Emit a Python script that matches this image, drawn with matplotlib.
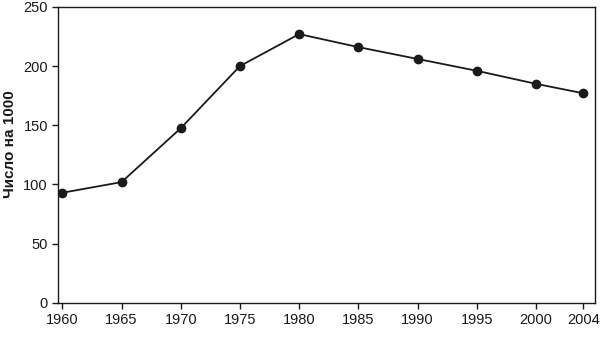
import matplotlib.pyplot as plt

years = [1960, 1965, 1970, 1975, 1980, 1985, 1990, 1995, 2000, 2004]
values = [93, 102, 147.5, 200, 227, 216, 206, 196, 185, 177]
y_ticks = [0, 50, 100, 150, 200, 250]

plt.rcParams['font.family'] = ['Liberation Sans', 'DejaVu Sans']

fig = plt.figure(figsize=(6, 3.43), dpi=100)
ax = fig.add_axes([0.096, 0.117, 0.896, 0.863])

ax.plot(years, values, color='#1a1a1a', linewidth=1.3, marker='o', markersize=6)

ax.set_xlim(1959.6, 2005)
ax.set_ylim(0, 250)
ax.set_xticks(years)
ax.set_yticks(y_ticks)
ax.tick_params(labelsize=10.5, length=4, width=1, color='#1a1a1a', labelcolor='#1a1a1a', pad=3)
for s in ax.spines.values():
    s.set_linewidth(1)
    s.set_color('#1a1a1a')

ax.set_ylabel('Число на 1000', fontsize=11, fontweight='bold', color='#1a1a1a')
ax.yaxis.set_label_coords(-0.075, 0.535)

fig.savefig('out.png', dpi=100)
